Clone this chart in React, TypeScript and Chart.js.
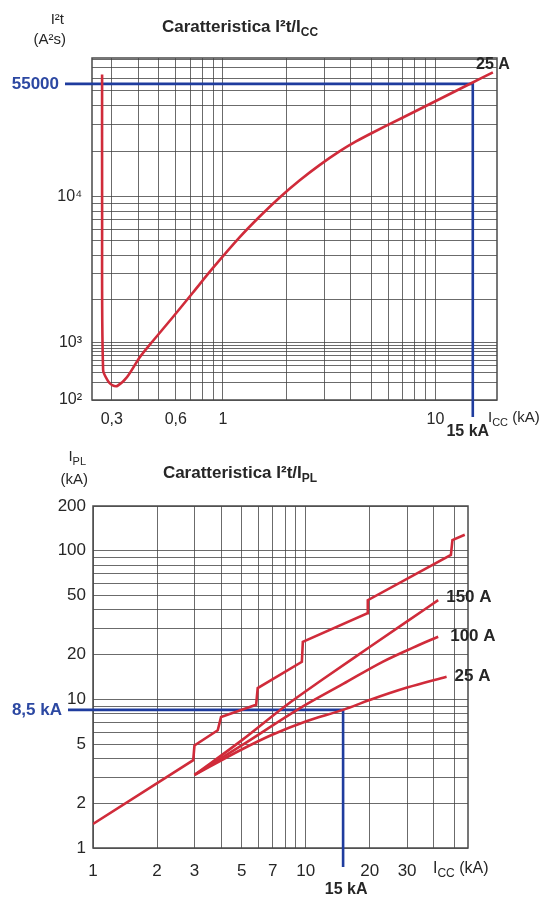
import React, { useEffect, useRef } from 'react';
import { Chart, registerables, LogarithmicScale } from 'chart.js';

/* ================= DATA ================= */

/* Chart 1 – Caratteristica I²t / Icc (25 A) */
const CC_ICC_KA = [0.270, 0.270, 0.273, 0.288, 0.301, 0.318, 0.354, 0.407, 0.468, 0.582, 0.723, 0.898, 1.20, 1.49, 1.85, 2.30, 2.86, 3.55, 4.23, 5.03, 6.81, 9.42, 14.5, 18.65];
const CC_I2T_A2S = [63500, 9530, 336, 215, 183, 176, 253, 568, 1032, 1507, 2218, 3265, 5306, 7351, 9922, 12865, 16230, 19950, 23100, 26250, 32420, 40640, 54950, 65370];

const TOP_X_GRID = [0.3, 0.4, 0.5, 0.6, 0.7, 0.8, 0.9, 1, 2, 3, 4, 5, 6, 7, 8, 9, 10];
const TOP_X_LABELS = [0.3, 0.6, 1, 10];
const TOP_Y_GRID = [100, 200, 300, 400, 500, 600, 700, 800, 900, 1000, 2000, 3000, 4000, 5000, 6000, 7000, 8000, 9000, 10000, 20000, 30000, 40000, 50000, 60000, 70000, 80000];
const TOP_Y_LABELS = [100, 1000, 10000];
const TOP_Y_LABEL_TEXT = ['10²', '10³', '10⁴'];
const TOP_MARK_ICC = 15;
const TOP_MARK_I2T = 55000;
const TOP_CURVE_NAME = '25 A';

/* Chart 2 – Caratteristica I²t / Ipl */
const ENV_ICC = [1, 2.96, 3.0, 3.86, 4.0, 5.85, 5.95, 9.6, 9.7, 19.5, 19.6, 48.2, 49, 56];
const ENV_IPL = [1.45, 3.9, 4.9, 6.2, 7.6, 9.2, 11.9, 17.9, 24.4, 38, 46.5, 93.7, 118, 128];
const A150_ICC = [3, 5, 8, 12, 20, 30, 42];
const A150_IPL = [3.1, 5.3, 9.0, 13.6, 22.5, 33.5, 46.5];
const A100_ICC = [3, 5, 9.5, 15, 23, 32, 42];
const A100_IPL = [3.1, 4.9, 8.8, 12.7, 17.9, 22.3, 26.4];
const A25_ICC = [3, 5, 7, 10, 15, 20, 30, 46];
const A25_IPL = [3.1, 4.6, 5.8, 7.1, 8.5, 9.9, 12.0, 14.2];
const FAN_NAMES = ['150 A', '100 A', '25 A'];

const BOT_X_GRID = [1, 2, 3, 4, 5, 6, 7, 8, 9, 10, 20, 30, 40, 50];
const BOT_X_LABELS = [1, 2, 3, 5, 7, 10, 20, 30];
const BOT_Y_GRID = [1, 2, 3, 4, 5, 6, 7, 8, 9, 10, 20, 30, 40, 50, 60, 70, 80, 90, 100, 200];
const BOT_Y_LABELS = [1, 2, 5, 10, 20, 50, 100, 200];
const BOT_MARK_ICC = 15;
const BOT_MARK_IPL = 8.5;

/* ================= STYLE ================= */
const FONT = '"Liberation Sans", Arial, Helvetica, sans-serif';
const RED = '#d02b3a';
const BLUE = '#1f3c9e';
const BLUE_TXT = '#2c48a2';
const GRID = 'rgba(65,65,65,0.78)';
const BORDER = '#4a4a4a';
const TXT = '#262626';

/* The printed I²t axis is not uniformly logarithmic: the lowest decade is compressed.
   Calibration of the axis: log10(value) -> fraction of the axis height. */
const TOP_Y_AXIS_LOG = [2, 3, 4, 4.91];
const TOP_Y_AXIS_FRAC = [0, 0.1667, 0.5936, 1];

function warpLog(l: number) {
  const L = TOP_Y_AXIS_LOG, P = TOP_Y_AXIS_FRAC;
  let i = 0;
  while (i < L.length - 2 && l > L[i + 1]) i++;
  return P[i] + ((l - L[i]) * (P[i + 1] - P[i])) / (L[i + 1] - L[i]);
}
function unwarpLog(d: number) {
  const L = TOP_Y_AXIS_LOG, P = TOP_Y_AXIS_FRAC;
  let i = 0;
  while (i < P.length - 2 && d > P[i + 1]) i++;
  return L[i] + ((d - P[i]) * (L[i + 1] - L[i])) / (P[i + 1] - P[i]);
}

class WarpedLogScale extends LogarithmicScale {
  static id = 'warpedLog';
  static defaults = {};
  getPixelForValue(value: any) {
    if (value === undefined || value === null || isNaN(value) || value <= 0) return NaN;
    return this.getPixelForDecimal(warpLog(Math.log10(value)));
  }
  getValueForPixel(pixel: number) {
    return Math.pow(10, unwarpLog(this.getDecimalForPixel(pixel)));
  }
}

Chart.register(...registerables, WarpedLogScale as any);

/* ================= HELPERS ================= */
type Run = { t: string; sub?: boolean };
function drawRuns(ctx: CanvasRenderingContext2D, runs: Run[], x: number, y: number, size: number, bold: boolean, color: string, align: 'left' | 'center' | 'right') {
  const main = `${bold ? 'bold ' : ''}${size}px ${FONT}`;
  const small = `${bold ? 'bold ' : ''}${Math.round(size * 0.72)}px ${FONT}`;
  ctx.save();
  ctx.fillStyle = color;
  ctx.textBaseline = 'middle';
  ctx.textAlign = 'left';
  const widths = runs.map((r) => {
    ctx.font = r.sub ? small : main;
    return ctx.measureText(r.t).width;
  });
  const total = widths.reduce((a, b) => a + b, 0);
  let cx = align === 'left' ? x : align === 'right' ? x - total : x - total / 2;
  runs.forEach((r, i) => {
    ctx.font = r.sub ? small : main;
    ctx.fillText(r.t, cx, r.sub ? y + size * 0.32 : y);
    cx += widths[i];
  });
  ctx.restore();
}

const pts = (xs: number[], ys: number[]) => xs.map((x, i) => ({ x, y: ys[i] }));

function axisX(min: number, max: number, grid: number[], fmt: (v: number) => string, height: number, pad: number, size: number) {
  return {
    type: 'logarithmic',
    min,
    max,
    afterBuildTicks: (s: any) => { s.ticks = grid.map((value) => ({ value })); },
    afterFit: (s: any) => { s.height = height; },
    grid: { color: GRID, lineWidth: 1, drawTicks: false },
    border: { display: false },
    ticks: { autoSkip: false, maxRotation: 0, minRotation: 0, padding: pad, color: TXT, font: { family: FONT, size }, callback: (v: any) => fmt(Number(v)) },
  };
}
function axisY(type: string, min: number, max: number, grid: number[], fmt: (v: number) => string, width: number, pad: number, size: number) {
  return {
    type,
    min,
    max,
    afterBuildTicks: (s: any) => { s.ticks = grid.map((value) => ({ value })); },
    afterFit: (s: any) => { s.width = width; },
    grid: { color: GRID, lineWidth: 1, drawTicks: false },
    border: { display: false },
    ticks: { autoSkip: false, padding: pad, color: TXT, font: { family: FONT, size }, callback: (v: any) => fmt(Number(v)) },
  };
}

function frameAndGuide(chart: any, mx: number, my: number, leftExt: number, bottomExt: number) {
  const { ctx, chartArea: a, scales } = chart;
  ctx.save();
  ctx.strokeStyle = BORDER;
  ctx.lineWidth = 1.5;
  ctx.strokeRect(a.left, a.top, a.right - a.left, a.bottom - a.top);
  const gx = scales.x.getPixelForValue(mx);
  const gy = scales.y.getPixelForValue(my);
  ctx.strokeStyle = BLUE;
  ctx.lineWidth = 2.6;
  ctx.lineJoin = 'miter';
  ctx.beginPath();
  ctx.moveTo(a.left - leftExt, gy);
  ctx.lineTo(gx, gy);
  ctx.lineTo(gx, a.bottom + bottomExt);
  ctx.stroke();
  ctx.restore();
}

/* ================= CHART CONFIGS ================= */
function topConfig(): any {
  const fmtX = (v: number) => (TOP_X_LABELS.includes(v) ? String(v).replace('.', ',') : '');
  const fmtY = (v: number) => { const i = TOP_Y_LABELS.indexOf(v); return i >= 0 ? TOP_Y_LABEL_TEXT[i] : ''; };
  return {
    type: 'line',
    data: {
      datasets: [
        { data: pts(CC_ICC_KA, CC_I2T_A2S), borderColor: RED, borderWidth: 2.6, pointRadius: 0, tension: 0.3, fill: false },
      ],
    },
    options: {
      responsive: false,
      animation: false,
      events: [],
      layout: { padding: { top: 58, right: 50, left: 0, bottom: 0 } },
      plugins: { legend: { display: false }, tooltip: { enabled: false }, title: { display: false } },
      scales: {
        x: axisX(0.242, 19.5, TOP_X_GRID, fmtX, 45, 10, 16),
        y: axisY('warpedLog', 100, Math.pow(10, 4.91), TOP_Y_GRID, fmtY, 92, 10, 16),
      },
    },
    plugins: [
      {
        id: 'topDecor',
        beforeDatasetsDraw(chart: any) { frameAndGuide(chart, TOP_MARK_ICC, TOP_MARK_I2T, 27, 17); },
        afterDraw(chart: any) {
          const { ctx, chartArea: a, scales } = chart;
          const gx = scales.x.getPixelForValue(TOP_MARK_ICC);
          const gy = scales.y.getPixelForValue(TOP_MARK_I2T);
          drawRuns(ctx, [{ t: 'Caratteristica I²t/I' }, { t: 'CC', sub: true }], 240, 27, 17, true, TXT, 'center');
          drawRuns(ctx, [{ t: 'I²t' }], 64, 20, 15, false, TXT, 'right');
          drawRuns(ctx, [{ t: '(A²s)' }], 66, 40, 15, false, TXT, 'right');
          drawRuns(ctx, [{ t: String(TOP_MARK_I2T) }], a.left - 33, gy, 17, true, BLUE_TXT, 'right');
          drawRuns(ctx, [{ t: `${TOP_MARK_ICC} kA` }], gx - 5, a.bottom + 32, 16, true, TXT, 'center');
          drawRuns(ctx, [{ t: 'I' }, { t: 'CC', sub: true }, { t: ' (kA)' }], a.right - 9, a.bottom + 18, 15, false, TXT, 'left');
          drawRuns(ctx, [{ t: TOP_CURVE_NAME }], a.right - 21, a.top + 7, 16, true, TXT, 'left');
        },
      },
    ],
  };
}

function bottomConfig(): any {
  const fmtX = (v: number) => (BOT_X_LABELS.includes(v) ? String(v) : '');
  const fmtY = (v: number) => (BOT_Y_LABELS.includes(v) ? String(v) : '');
  const fans = [pts(A150_ICC, A150_IPL), pts(A100_ICC, A100_IPL), pts(A25_ICC, A25_IPL)];
  return {
    type: 'line',
    data: {
      datasets: [
        { data: pts(ENV_ICC, ENV_IPL), borderColor: RED, borderWidth: 2.6, pointRadius: 0, tension: 0, fill: false },
        ...fans.map((d) => ({ data: d, borderColor: RED, borderWidth: 2.6, pointRadius: 0, cubicInterpolationMode: 'monotone', fill: false })),
      ],
    },
    options: {
      responsive: false,
      animation: false,
      events: [],
      layout: { padding: { top: 61, right: 79, left: 0, bottom: 0 } },
      plugins: { legend: { display: false }, tooltip: { enabled: false }, title: { display: false } },
      scales: {
        x: axisX(1, 58, BOT_X_GRID, fmtX, 50, 13, 17),
        y: axisY('logarithmic', 1, 200, BOT_Y_GRID, fmtY, 93, 7, 17),
      },
    },
    plugins: [
      {
        id: 'botDecor',
        beforeDatasetsDraw(chart: any) { frameAndGuide(chart, BOT_MARK_ICC, BOT_MARK_IPL, 25, 19); },
        afterDraw(chart: any) {
          const { ctx, chartArea: a, scales } = chart;
          const gx = scales.x.getPixelForValue(BOT_MARK_ICC);
          const gy = scales.y.getPixelForValue(BOT_MARK_IPL);
          drawRuns(ctx, [{ t: 'Caratteristica I²t/I' }, { t: 'PL', sub: true }], 240, 28, 17, true, TXT, 'center');
          drawRuns(ctx, [{ t: 'I' }, { t: 'PL', sub: true }], 86, 12, 15, false, TXT, 'right');
          drawRuns(ctx, [{ t: '(kA)' }], 88, 35, 15, false, TXT, 'right');
          drawRuns(ctx, [{ t: String(BOT_MARK_IPL).replace('.', ',') + ' kA' }], a.left - 31, gy, 17, true, BLUE_TXT, 'right');
          drawRuns(ctx, [{ t: `${BOT_MARK_ICC} kA` }], gx + 3, a.bottom + 42, 16, true, TXT, 'center');
          drawRuns(ctx, [{ t: 'I' }, { t: 'CC', sub: true }, { t: ' (kA)' }], a.right - 35, a.bottom + 21, 16, false, TXT, 'left');
          const offs = [[8, -3], [12, 0], [8, 0]];
          fans.forEach((d, i) => {
            const last = d[d.length - 1];
            const px = scales.x.getPixelForValue(last.x);
            const py = scales.y.getPixelForValue(last.y);
            drawRuns(ctx, [{ t: FAN_NAMES[i] }], px + offs[i][0], py + offs[i][1], 17, true, TXT, 'left');
          });
        },
      },
    ],
  };
}

/* ================= COMPONENT ================= */
export default function App() {
  const r1 = useRef<HTMLCanvasElement>(null);
  const r2 = useRef<HTMLCanvasElement>(null);
  useEffect(() => {
    const c1 = new Chart(r1.current as HTMLCanvasElement, topConfig());
    const c2 = new Chart(r2.current as HTMLCanvasElement, bottomConfig());
    return () => {
      c1.destroy();
      c2.destroy();
    };
  }, []);
  return (
    <div style={{ position: 'absolute', left: 0, top: 0, width: 547, height: 898, background: '#fff' }}>
      <canvas ref={r1} width={547} height={445} style={{ position: 'absolute', left: 0, top: 0 }} />
      <canvas ref={r2} width={547} height={453} style={{ position: 'absolute', left: 0, top: 445 }} />
    </div>
  );
}
